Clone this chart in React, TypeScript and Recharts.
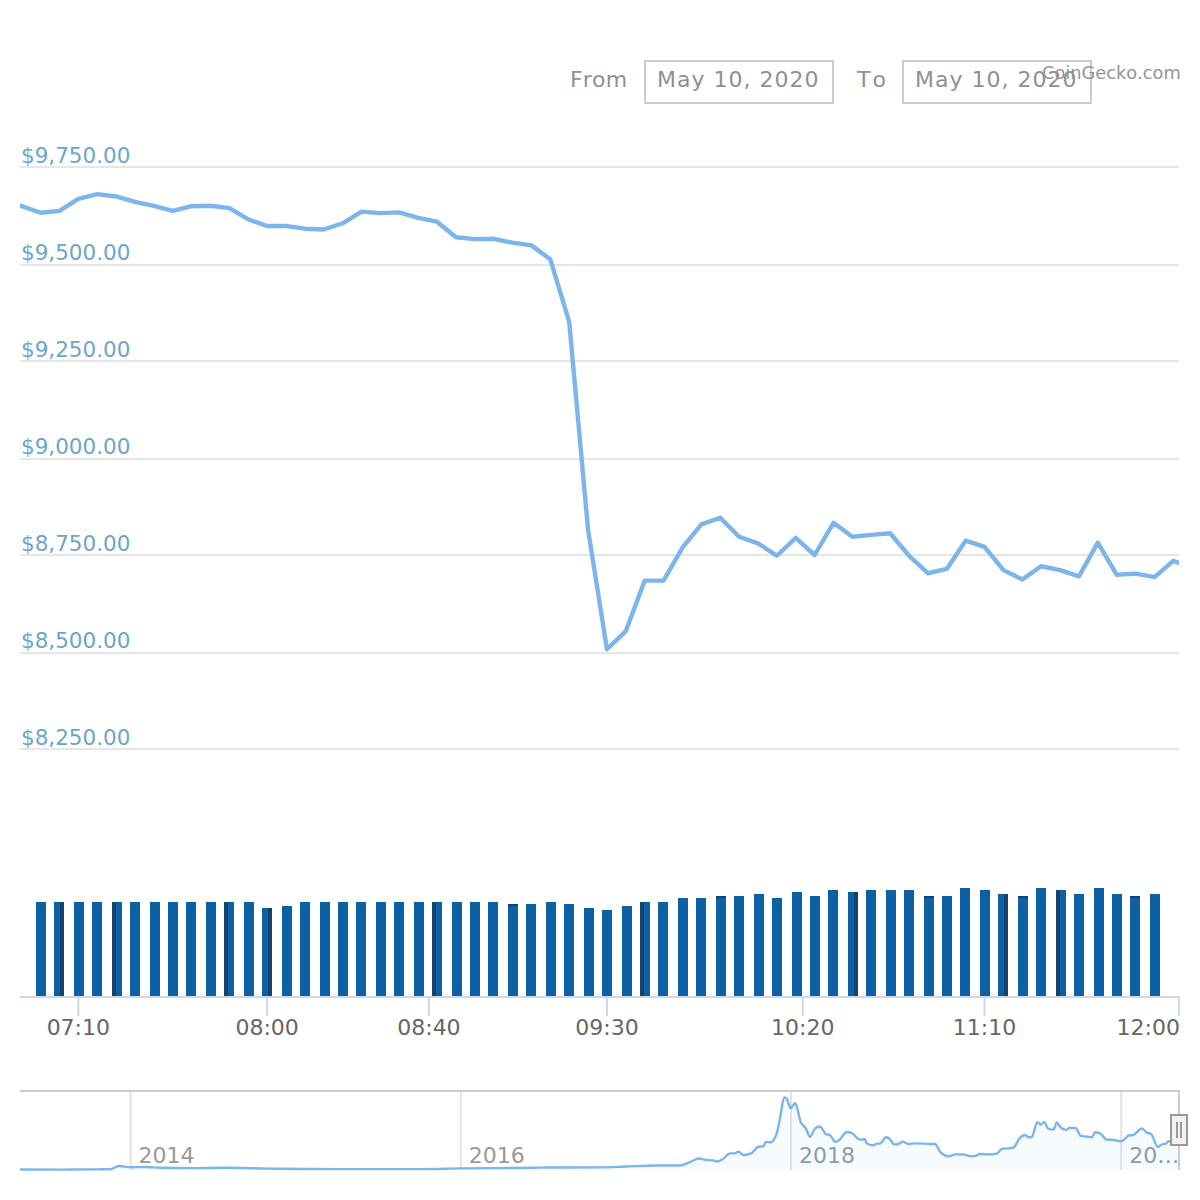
import React from "react";
import { Area, Bar, CartesianGrid, ComposedChart, Line, XAxis, YAxis } from "recharts";

// Five-minute slots on the ordinal time axis; slot 0 is the first volume bar.
const priceSlots = [-2,-1,0,1,2,3,4,5,6,7,8,9,10,11,12,13,14,15,16,17,18,19,20,21,22,23,24,25,26,27,28,29,30,31,32,33,34,35,36,37,38,39,40,41,42,43,44,45,46,47,48,49,50,51,52,53,54,55,56,57,58,59,60,61];
const priceValues = [9665,9649,9632,9637,9668,9680,9674,9660,9650,9637,9649,9650,9644,9615,9598,9598,9591,9589,9605,9635,9631,9633,9619,9609,9569,9564,9565,9555,9548,9512,9351,8815,8507,8554,8684,8684,8769,8829,8846,8797,8780,8748,8794,8750,8833,8797,8802,8806,8748,8703,8714,8787,8771,8711,8687,8721,8711,8695,8782,8699,8702,8693,8735,8717];
const priceTicks = [8250,8500,8750,9000,9250,9500,9750];

// Relative traded volume, one value per slot from 0 to 59.
const volumeValues = [95,95,95,95,95,95,95,95,95,95,95,95,89,91,95,95,95,95,95,95,95,95,95,95,95,93,93,95,93,89,87,91,95,95,99,99,101,101,103,99,105,101,107,105,107,107,107,101,101,109,107,103,101,109,107,103,109,103,101,103];
const volumeShade = [[1,"right"],[4,"left"],[10,"left"],[12,"right"],[21,"left"],[25,"top"],[32,"left"],[36,"top"],[43,"right"],[47,"top"],[51,"right"],[52,"top"],[54,"left"],[58,"top"]] as [number,string][];

const timeTickSlots = [2,12,20.57,30,40.37,50,60.3];
const timeTickLabels = ["07:10","08:00","08:40","09:30","10:20","11:10","12:00"];

// Long-range navigator: decimal year and USD price.
const navYears = [2013.33,2013.6,2013.8,2013.88,2013.93,2014.0,2014.085,2014.18,2014.36,2014.575,2014.83,2015.06,2015.3,2015.76,2016.0,2016.45,2016.52,2016.84,2017.0,2017.19,2017.327,2017.388,2017.444,2017.479,2017.529,2017.549,2017.59,2017.63,2017.66,2017.681,2017.711,2017.761,2017.802,2017.832,2017.848,2017.876,2017.913,2017.933,2017.959,2017.973,2017.998,2018.024,2018.038,2018.058,2018.091,2018.115,2018.145,2018.175,2018.212,2018.236,2018.27,2018.297,2018.337,2018.367,2018.418,2018.448,2018.458,2018.499,2018.519,2018.539,2018.575,2018.6,2018.624,2018.65,2018.674,2018.711,2018.761,2018.842,2018.872,2018.907,2018.957,2018.994,2019.04,2019.084,2019.115,2019.145,2019.196,2019.246,2019.276,2019.347,2019.383,2019.418,2019.438,2019.458,2019.492,2019.513,2019.533,2019.559,2019.589,2019.61,2019.63,2019.666,2019.686,2019.725,2019.755,2019.791,2019.822,2019.842,2019.872,2019.913,2019.953,2019.997,2020.014,2020.05,2020.068,2020.125,2020.155,2020.181,2020.222,2020.246,2020.266,2020.286,2020.35];
const navPrices = [135,110,180,220,1080,750,800,600,500,600,380,260,240,240,430,600,660,700,950,1200,1215,2115,3105,2745,2565,2295,3015,4455,4455,4905,4005,4545,6255,6345,7515,7425,9765,13815,19485,19215,16515,17955,16515,12915,11115,8865,11115,11655,9585,9315,7515,8235,10215,9945,8145,8235,7155,6615,7065,7065,8775,8235,6885,6975,7605,6975,7155,6975,6975,4635,3645,4185,4185,3735,3735,4275,4185,4365,5625,5985,8415,9405,8775,8865,12825,12195,12915,11025,10845,12735,11565,10755,11295,11205,9135,8955,8775,10125,9855,8145,8055,7695,8055,9315,9315,11115,10035,9675,6165,6885,6975,7695,7515];
const navTickYears = [2014,2016,2018,2020];
const navTickLabels = ["2014","2016","2018","20…"];

const priceData = priceSlots.map((slot, i) => ({ slot, price: priceValues[i] }));
const volumeData = volumeValues.map((volume, slot) => ({ slot, volume }));
const navData = navYears.map((year, i) => ({ year, price: navPrices[i] }));

const FONT = "'DejaVu Sans', sans-serif";
const SLOT_DOMAIN: [number, number] = [-1.09, 60.3];
const fmtPrice = (v: number) => "$" + v.toLocaleString("en-US", { minimumFractionDigits: 2 });

const PriceTick = ({ y, payload }: any) => (
  <text x={21} y={y - 4} fontSize={21.5} fontFamily={FONT} fill="#6ba6c9">{fmtPrice(payload.value)}</text>
);

const TimeTick = ({ x, y, payload, index }: any) => {
  const last = index === timeTickLabels.length - 1;
  return (
    <text x={last ? x + 1 : x} y={y + 17} fontSize={22} fontFamily={FONT} fill="#666666" textAnchor={last ? "end" : "middle"}>
      {timeTickLabels[index] ?? String(payload.value)}
    </text>
  );
};

const NavTick = ({ x, y, index }: any) => (
  <text x={x + 8} y={y - 15} fontSize={22} fontFamily={FONT} fill={index < 2 ? "#999999" : "#8b9dac"}>
    {navTickLabels[index]}
  </text>
);

const VolumeBar = ({ x, y, height, width, index }: any) => {
  const left = Math.round((x + 0.7) / 2) * 2;
  const top = Math.round(y);
  const h = height + 1 + (y - top);
  const shade = volumeShade.find((s) => s[0] === index)?.[1];
  return (
    <g>
      <rect x={left} y={top} width={width} height={h} fill="#0b61a4" />
      {shade === "left" && <rect x={left} y={top} width={4} height={h} fill="#17385a" opacity={0.75} />}
      {shade === "right" && <rect x={left + width - 4} y={top} width={4} height={h} fill="#17385a" opacity={0.75} />}
      {shade === "top" && <rect x={left} y={top} width={width} height={2} fill="#17385a" opacity={0.8} />}
    </g>
  );
};

// Grid lines sit on the device-pixel grid, as crisp lines do in the original.
const snappedGridLines = ({ offset }: any) =>
  priceTicks.map((t) => {
    const y = offset.top + (offset.height * (9750 - t)) / 1500;
    return Math.ceil((y - 1) / 2) * 2 + 1;
  });

const abs = (left: number, top: number, width: number, height: number): React.CSSProperties => ({
  position: "absolute", left, top, width, height, boxSizing: "border-box",
});
const label: React.CSSProperties = { position: "absolute", fontFamily: FONT, fontSize: 22, color: "#909090", lineHeight: "26px", whiteSpace: "nowrap", fontKerning: "none" };

export default function App() {
  return (
    <div style={{ position: "absolute", left: 0, top: 0, width: 1200, height: 1200, background: "#fff", overflow: "hidden" }}>
      <div style={abs(0, 0, 1200, 800)}>
        <ComposedChart width={1200} height={800} data={priceData} margin={{ top: 167, right: 21, bottom: 51, left: 19 }}>
          <CartesianGrid vertical={false} stroke="#e6e6e6" strokeWidth={2} horizontalCoordinatesGenerator={snappedGridLines} />
          <XAxis hide type="number" dataKey="slot" domain={SLOT_DOMAIN} allowDataOverflow />
          <YAxis width={1} domain={[8250, 9750]} ticks={priceTicks} interval={0} axisLine={false} tickLine={false} tick={<PriceTick />} />
          <Line dataKey="price" type="linear" stroke="#7cb5ec" strokeWidth={4.4} strokeLinejoin="round" dot={false} isAnimationActive={false} />
        </ComposedChart>
      </div>

      <div style={abs(0, 860, 1200, 190)}>
        <ComposedChart width={1200} height={190} data={volumeData} margin={{ top: 0, right: 21, bottom: 0, left: 20 }}>
          <XAxis type="number" dataKey="slot" domain={SLOT_DOMAIN} allowDataOverflow height={53} ticks={timeTickSlots} interval={0}
            axisLine={{ stroke: "#ccd6eb", strokeWidth: 2 }} tickLine={{ stroke: "#ccd6eb", strokeWidth: 2 }} tickSize={19} tick={<TimeTick />} />
          <YAxis hide domain={[0, 137]} />
          <Bar dataKey="volume" barSize={10} shape={<VolumeBar />} isAnimationActive={false} />
        </ComposedChart>
      </div>

      <div style={abs(0, 1091, 1200, 80)}>
        <ComposedChart width={1200} height={80} data={navData} margin={{ top: 0, right: 21, bottom: 0, left: 20 }}>
          <CartesianGrid horizontal={false} syncWithTicks stroke="#e3e3e3" strokeWidth={2} />
          <XAxis type="number" dataKey="year" domain={[2013.33, 2020.35]} allowDataOverflow height={1} ticks={navTickYears} interval={0}
            axisLine={false} tickLine={false} tick={<NavTick />} />
          <YAxis hide domain={[0, 21195]} />
          <Area dataKey="price" type="monotone" stroke="#7cb5ec" strokeWidth={2.4} fill="#7cc4f4" fillOpacity={0.07} dot={false} isAnimationActive={false} />
        </ComposedChart>
      </div>

      {/* Navigator outline and handle */}
      <div style={{ ...abs(20, 1090, 1160, 2), background: "#cccccc" }} />
      <div style={{ ...abs(1178, 1090, 2, 80), background: "#cccccc" }} />
      <div style={{ ...abs(1170, 1114, 18, 32), background: "#f2f2f2", border: "2px solid #999999" }} />
      <div style={{ ...abs(1176, 1122, 2, 16), background: "#999999" }} />
      <div style={{ ...abs(1180, 1122, 2, 16), background: "#999999" }} />

      {/* Date range inputs */}
      <div style={{ ...label, left: 570, top: 67, letterSpacing: 0.2 }}>From</div>
      <div style={{ ...abs(644, 60, 190, 44), border: "2px solid #cccccc" }} />
      <div style={{ ...label, left: 657, top: 67, letterSpacing: 1 }}>May 10, 2020</div>
      <div style={{ ...label, left: 857, top: 67, letterSpacing: 2 }}>To</div>
      <div style={{ ...abs(902, 60, 190, 44), border: "2px solid #cccccc" }} />
      <div style={{ ...label, left: 915, top: 67, letterSpacing: 1 }}>May 10, 2020</div>
      <div style={{ ...label, left: 1042, top: 62, fontSize: 17.8, lineHeight: "22px", color: "#949494" }}>CoinGecko.com</div>
    </div>
  );
}
